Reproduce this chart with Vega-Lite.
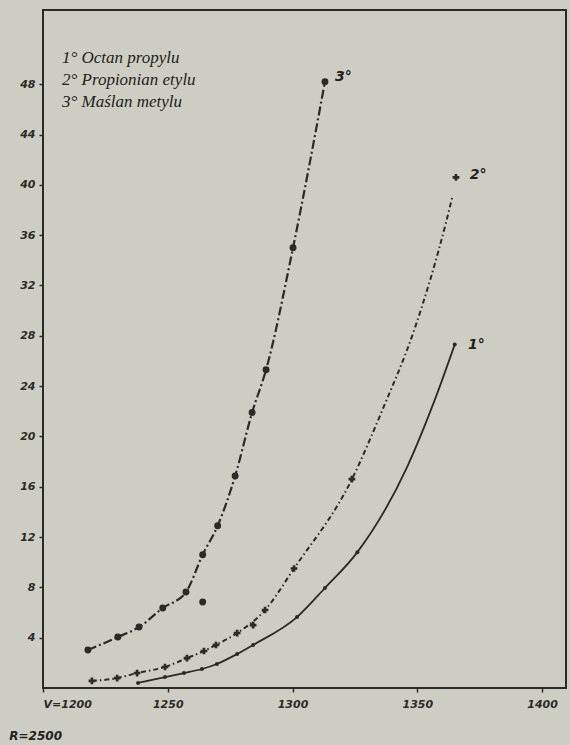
{
  "$schema": "https://vega.github.io/schema/vega-lite/v6.json",
  "width": 523,
  "height": 678,
  "autosize": {"type": "none"},
  "padding": {"left": 43, "top": 10, "right": 4, "bottom": 57},
  "background": "#cecdc3",
  "config": {
    "view": {"stroke": "#2a2a28", "strokeWidth": 2, "fill": "#cecdc3"},
    "axis": {
      "grid": false, "domain": false, "title": null,
      "tickColor": "#2a2a28", "tickSize": 4, "tickWidth": 1.5,
      "labelFont": "DejaVu Sans", "labelFontStyle": "italic", "labelFontWeight": "bold",
      "labelFontSize": 11, "labelColor": "#2a2a28"
    }
  },
  "datasets": {
    "pts": [
      {"s": "1", "v": 1238.1, "y": 0.4, "m": 1, "l": 1},
      {"s": "1", "v": 1248.9, "y": 0.87, "m": 1, "l": 1},
      {"s": "1", "v": 1256.5, "y": 1.19, "m": 1, "l": 1},
      {"s": "1", "v": 1263.7, "y": 1.51, "m": 1, "l": 1},
      {"s": "1", "v": 1269.7, "y": 1.91, "m": 1, "l": 1},
      {"s": "1", "v": 1277.8, "y": 2.7, "m": 1, "l": 1},
      {"s": "1", "v": 1284.2, "y": 3.42, "m": 1, "l": 1},
      {"s": "1", "v": 1301.8, "y": 5.64, "m": 1, "l": 1},
      {"s": "1", "v": 1313.0, "y": 7.95, "m": 1, "l": 1},
      {"s": "1", "v": 1326.0, "y": 10.8, "m": 1, "l": 1},
      {"s": "1", "v": 1346.0, "y": 17.6, "m": 0, "l": 1},
      {"s": "1", "v": 1357.0, "y": 22.9, "m": 0, "l": 1},
      {"s": "1", "v": 1365.0, "y": 27.3, "m": 1, "l": 1},
      {"s": "2", "v": 1219.6, "y": 0.56, "m": 1, "l": 1},
      {"s": "2", "v": 1229.7, "y": 0.79, "m": 1, "l": 1},
      {"s": "2", "v": 1237.7, "y": 1.19, "m": 1, "l": 1},
      {"s": "2", "v": 1248.9, "y": 1.67, "m": 1, "l": 1},
      {"s": "2", "v": 1257.7, "y": 2.38, "m": 1, "l": 1},
      {"s": "2", "v": 1264.5, "y": 2.94, "m": 1, "l": 1},
      {"s": "2", "v": 1269.3, "y": 3.42, "m": 1, "l": 1},
      {"s": "2", "v": 1277.8, "y": 4.37, "m": 1, "l": 1},
      {"s": "2", "v": 1284.2, "y": 5.0, "m": 1, "l": 0},
      {"s": "2", "v": 1289.0, "y": 6.2, "m": 1, "l": 1},
      {"s": "2", "v": 1300.6, "y": 9.5, "m": 1, "l": 1},
      {"s": "2", "v": 1323.8, "y": 16.6, "m": 1, "l": 1},
      {"s": "2", "v": 1336.0, "y": 22.1, "m": 0, "l": 1},
      {"s": "2", "v": 1349.0, "y": 28.6, "m": 0, "l": 1},
      {"s": "2", "v": 1361.5, "y": 37.0, "m": 0, "l": 1},
      {"s": "2", "v": 1364.0, "y": 39.0, "m": 0, "l": 1},
      {"s": "2", "v": 1365.5, "y": 40.6, "m": 1, "l": 0},
      {"s": "3", "v": 1218.0, "y": 3.02, "m": 1, "l": 1},
      {"s": "3", "v": 1230.0, "y": 4.05, "m": 1, "l": 1},
      {"s": "3", "v": 1238.5, "y": 4.85, "m": 1, "l": 1},
      {"s": "3", "v": 1248.0, "y": 6.36, "m": 1, "l": 1},
      {"s": "3", "v": 1257.3, "y": 7.63, "m": 1, "l": 1},
      {"s": "3", "v": 1264.0, "y": 6.84, "m": 1, "l": 0},
      {"s": "3", "v": 1264.0, "y": 10.6, "m": 1, "l": 1},
      {"s": "3", "v": 1270.0, "y": 12.9, "m": 1, "l": 1},
      {"s": "3", "v": 1277.0, "y": 16.85, "m": 1, "l": 1},
      {"s": "3", "v": 1283.8, "y": 21.9, "m": 1, "l": 1},
      {"s": "3", "v": 1289.4, "y": 25.3, "m": 1, "l": 1},
      {"s": "3", "v": 1300.2, "y": 35.0, "m": 1, "l": 1},
      {"s": "3", "v": 1313.0, "y": 48.2, "m": 1, "l": 1}
    ],
    "notes": [
      {"k": "leg", "v": 1207.6, "y": 50.1, "t": "1° Octan propylu"},
      {"k": "leg", "v": 1207.6, "y": 48.3, "t": "2° Propionian etylu"},
      {"k": "leg", "v": 1207.6, "y": 46.6, "t": "3° Maślan metylu"},
      {"k": "lab", "v": 1317.0, "y": 48.6, "t": "3°"},
      {"k": "lab", "v": 1371.0, "y": 40.8, "t": "2°"},
      {"k": "lab", "v": 1370.3, "y": 27.3, "t": "1°"},
      {"k": "r", "v": 1186.5, "y": -3.8, "t": "R=2500"}
    ]
  },
  "encoding": {
    "x": {"field": "v", "type": "quantitative",
      "scale": {"domain": [1200, 1409.6], "nice": false, "zero": false},
      "axis": {"values": [1200, 1250, 1300, 1350, 1400], "format": "d", "labelPadding": 6,
        "labelExpr": "datum.value == 1200 ? 'V=1200' : datum.label"}},
    "y": {"field": "y", "type": "quantitative",
      "scale": {"domain": [0, 53.9], "nice": false, "zero": false},
      "axis": {"values": [4, 8, 12, 16, 20, 24, 28, 32, 36, 40, 44, 48], "labelPadding": 4}}
  },
  "layer": [
    {
      "data": {"name": "pts"},
      "transform": [{"filter": "datum.s == '1' && datum.l == 1"}],
      "mark": {"type": "line", "interpolate": "monotone", "color": "#2a2a28", "strokeWidth": 1.8}
    },
    {
      "data": {"name": "pts"},
      "transform": [{"filter": "datum.s == '2' && datum.l == 1"}],
      "mark": {"type": "line", "interpolate": "monotone", "color": "#2a2a28", "strokeWidth": 2, "strokeDash": [5, 3, 1.5, 3]}
    },
    {
      "data": {"name": "pts"},
      "transform": [{"filter": "datum.s == '3' && datum.l == 1"}],
      "mark": {"type": "line", "interpolate": "monotone", "color": "#2a2a28", "strokeWidth": 2.2, "strokeDash": [9, 3, 2, 3]}
    },
    {
      "data": {"name": "pts"},
      "transform": [{"filter": "datum.s == '1' && datum.m == 1"}],
      "mark": {"type": "point", "shape": "circle", "filled": true, "size": 16, "color": "#2a2a28", "opacity": 1}
    },
    {
      "data": {"name": "pts"},
      "transform": [{"filter": "datum.s == '2' && datum.m == 1"}],
      "mark": {"type": "point", "shape": "cross", "filled": true, "size": 45, "color": "#2a2a28", "opacity": 1}
    },
    {
      "data": {"name": "pts"},
      "transform": [{"filter": "datum.s == '3' && datum.m == 1"}],
      "mark": {"type": "point", "shape": "circle", "filled": true, "size": 48, "color": "#2a2a28", "opacity": 1}
    },
    {
      "data": {"name": "notes"},
      "transform": [{"filter": "datum.k == 'leg'"}],
      "mark": {"type": "text", "align": "left", "baseline": "middle", "font": "Liberation Serif", "fontStyle": "italic", "fontSize": 17, "color": "#222220"},
      "encoding": {"text": {"field": "t"}}
    },
    {
      "data": {"name": "notes"},
      "transform": [{"filter": "datum.k == 'lab'"}],
      "mark": {"type": "text", "align": "left", "baseline": "middle", "font": "DejaVu Sans", "fontStyle": "italic", "fontWeight": "bold", "fontSize": 14, "color": "#222220"},
      "encoding": {"text": {"field": "t"}}
    },
    {
      "data": {"name": "notes"},
      "transform": [{"filter": "datum.k == 'r'"}],
      "mark": {"type": "text", "align": "left", "baseline": "middle", "font": "DejaVu Sans", "fontStyle": "italic", "fontWeight": "bold", "fontSize": 12, "color": "#222220"},
      "encoding": {"text": {"field": "t"}}
    }
  ]
}
